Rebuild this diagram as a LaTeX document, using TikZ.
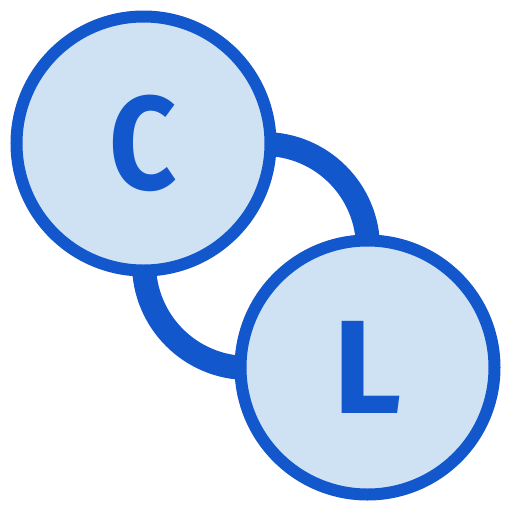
\documentclass[tikz,border=0pt]{standalone}
\usepackage{fontspec}
\usepackage{graphicx}
\newfontfamily\iconfont{Fira Sans}
\definecolor{iconblue}{HTML}{1257CC}
\definecolor{iconfill}{HTML}{CFE2F3}
\begin{document}
\begin{tikzpicture}[x=1pt,y=1pt,
  bubble/.style={circle, draw=iconblue, fill=iconfill, line width=12pt, minimum size=254pt, inner sep=0pt,
    font=\iconfont\bfseries\fontsize{133}{133}\selectfont, text=iconblue},
  link/.style={draw=iconblue, line width=24pt}]
\useasboundingbox (0,0) rectangle (512,-512);
\coordinate (a1) at (264,-144);
\coordinate (a2) at (144,-264);
\draw[link] (a1) arc[start angle=90, end angle=0, radius=104];
\draw[link] (a2) arc[start angle=180, end angle=270, radius=104];
\node[bubble] (C) at (143.5,-143.5) {\scalebox{0.88}[1]{C}};
\node[bubble] (L) at (367.5,-367.5) {L};
\end{tikzpicture}
\end{document}
